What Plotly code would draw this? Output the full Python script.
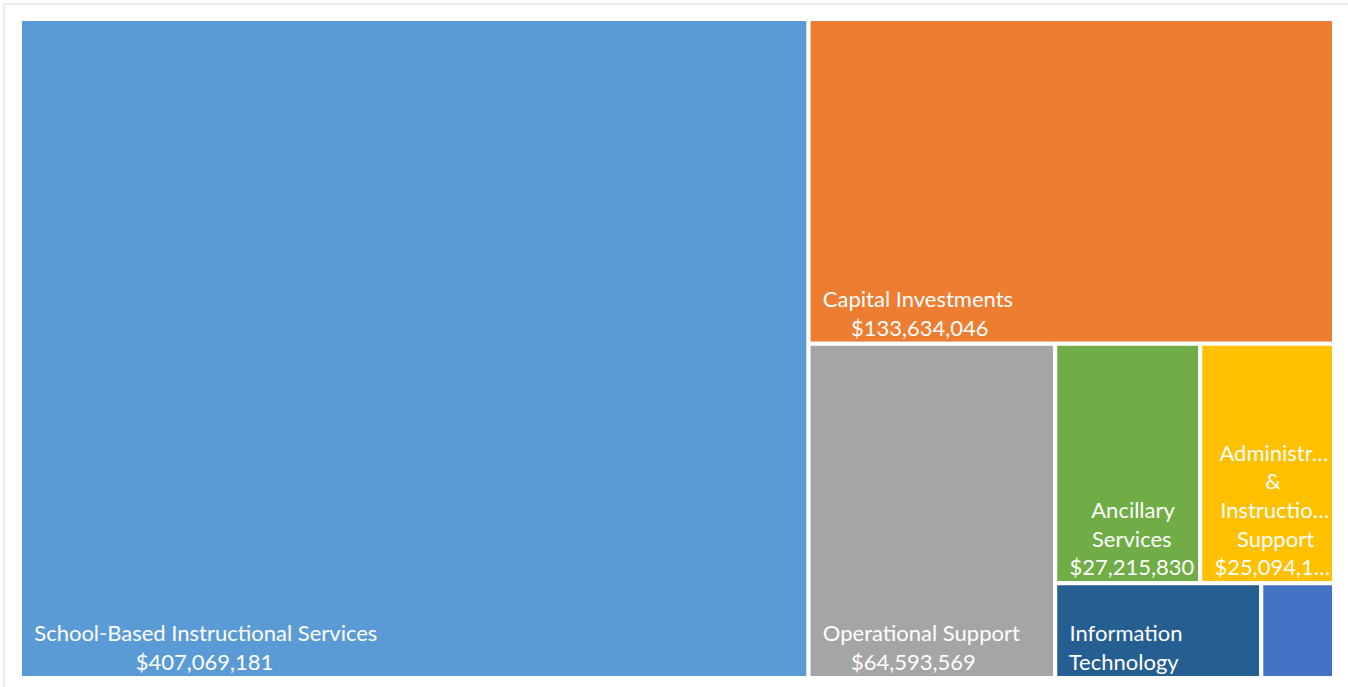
import plotly.graph_objects as go

# Budget categories and amounts (USD)
categories = [
    "School-Based Instructional Services",
    "Capital Investments",
    "Operational Support",
    "Ancillary Services",
    "Administrative & Instructional Support",
    "Information Technology",
    "Other",
]
amounts = [407069181, 133634046, 64593569, 27215830, 25094150, 15300000, 5400000]
colors = ["#5B9BD5", "#ED7D31", "#A5A5A5", "#70AD47", "#FFC000", "#255E91", "#4472C4"]

# Label lines as they are wrapped/truncated inside each tile
label_lines = [
    ["School-Based Instructional Services"],
    ["Capital Investments"],
    ["Operational Support"],
    ["Ancillary", "Services"],
    ["Administr\u2026", "&", "Instructio\u2026", "Support"],
    ["Information", "Technology"],
    [],
]
show_value = [True, True, True, True, "trunc", False, False]

FONT_SIZE = 22
NBSP = "\u00a0"
NBSP_EM = 0.256  # rendered advance of a no-break space
SPACE_EM = 0.193


def char_em(c):
    """Rough Lato advance widths (em) used to centre the lines of a label."""
    if c in "il.,:;'!|I":
        return 0.23
    if c in "fjtr":
        return 0.34
    if c == "-":
        return 0.33
    if c in "mwMW":
        return 0.84
    if c == "&":
        return 0.68
    if c == "\u2026":
        return 0.76
    if c == " ":
        return SPACE_EM
    if c.isdigit() or c == "$":
        return 0.58
    if c.isupper():
        return 0.64
    return 0.52


def text_em(s):
    return sum(char_em(c) for c in s)


def fmt_amount(v, mode):
    s = f"${v:,}"
    if mode == "trunc":
        s = s[:9] + "\u2026"
    return s


def centred_block(lines, indent=2):
    """Pad lines with no-break spaces so they sit centred on each other."""
    widest = max(text_em(s) for s in lines)
    out = []
    for s in lines:
        n = int(round((widest - text_em(s)) / 2 / NBSP_EM))
        out.append(NBSP * (indent + n) + s)
    return "<br>".join(out)


tile_text = []
for lines, v, mode in zip(label_lines, amounts, show_value):
    parts = list(lines)
    if mode:
        parts.append(fmt_amount(v, mode))
    tile_text.append(centred_block(parts) if parts else "")

fig = go.Figure(
    go.Treemap(
        labels=categories,
        parents=[""] * len(categories),
        values=amounts,
        text=tile_text,
        texttemplate="%{text}",
        textposition="bottom left",
        textfont=dict(family="Lato", size=FONT_SIZE, color="white"),
        marker=dict(
            colors=colors,
            line=dict(color="white", width=4),
            pad=dict(t=0, l=0, r=0, b=0),
        ),
        tiling=dict(packing="squarify", squarifyratio=1, pad=0),
        pathbar=dict(visible=False),
        sort=True,
        hoverinfo="label+value",
    )
)

fig.update_layout(
    width=1348,
    height=687,
    margin=dict(l=20, r=14, t=19, b=9),
    paper_bgcolor="white",
    shapes=[
        dict(
            type="rect", xref="paper", yref="paper",
            x0=-16 / 1314, x1=1.05, y0=-0.05, y1=1 + 15 / 659,
            line=dict(color="#D9D9D9", width=1),
        )
    ],
)

fig.write_html("out.html")
